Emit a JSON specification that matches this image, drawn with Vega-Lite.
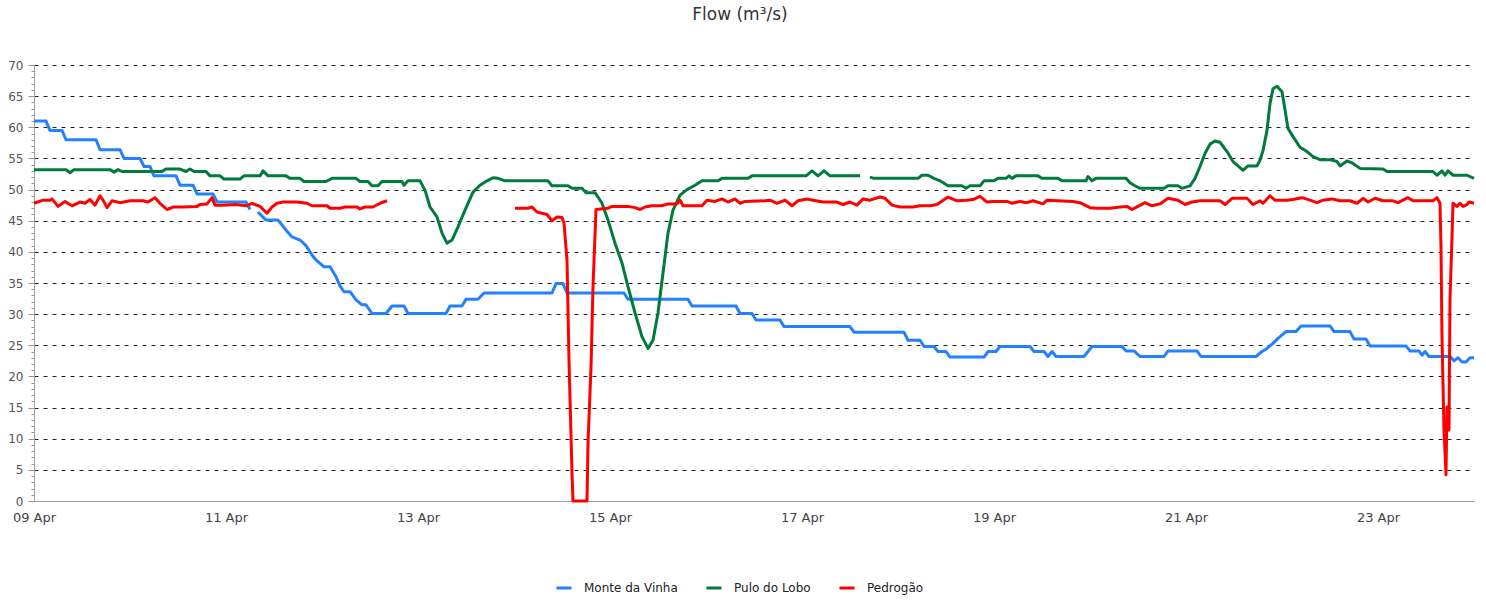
{
  "$schema": "https://vega.github.io/schema/vega-lite/v6.json",
  "width": 1440,
  "height": 436,
  "autosize": "none",
  "padding": {"left": 34, "top": 65, "right": 12, "bottom": 100},
  "background": "white",
  "title": {"text": "Flow (m³/s)", "font": "DejaVu Sans", "fontSize": 17, "fontWeight": "normal", "color": "#333333", "anchor": "middle", "dx": -14, "offset": 35},
  "config": {
    "view": {"stroke": null},
    "font": "DejaVu Sans"
  },
  "data": {"values": [
    {"t":"2024-04-09T00:00","s":"Monte da Vinha","v":61},
    {"t":"2024-04-09T03:00","s":"Monte da Vinha","v":61},
    {"t":"2024-04-09T04:00","s":"Monte da Vinha","v":59.5},
    {"t":"2024-04-09T07:00","s":"Monte da Vinha","v":59.5},
    {"t":"2024-04-09T08:00","s":"Monte da Vinha","v":58},
    {"t":"2024-04-09T15:30","s":"Monte da Vinha","v":58},
    {"t":"2024-04-09T16:30","s":"Monte da Vinha","v":56.4},
    {"t":"2024-04-09T21:30","s":"Monte da Vinha","v":56.4},
    {"t":"2024-04-09T22:30","s":"Monte da Vinha","v":55},
    {"t":"2024-04-10T02:30","s":"Monte da Vinha","v":55},
    {"t":"2024-04-10T03:30","s":"Monte da Vinha","v":53.7},
    {"t":"2024-04-10T05:00","s":"Monte da Vinha","v":53.7},
    {"t":"2024-04-10T06:00","s":"Monte da Vinha","v":52.2},
    {"t":"2024-04-10T11:30","s":"Monte da Vinha","v":52.2},
    {"t":"2024-04-10T12:30","s":"Monte da Vinha","v":50.7},
    {"t":"2024-04-10T15:45","s":"Monte da Vinha","v":50.7},
    {"t":"2024-04-10T16:45","s":"Monte da Vinha","v":49.3},
    {"t":"2024-04-10T20:45","s":"Monte da Vinha","v":49.3},
    {"t":"2024-04-10T21:45","s":"Monte da Vinha","v":48},
    {"t":"2024-04-11T05:00","s":"Monte da Vinha","v":48},
    {"t":"2024-04-11T06:00","s":"Monte da Vinha","v":46.8},
    {"t":"2024-04-11T07:00","s":"Monte da Vinha","v":null},
    {"t":"2024-04-11T08:00","s":"Monte da Vinha","v":46.4},
    {"t":"2024-04-11T10:00","s":"Monte da Vinha","v":45.1},
    {"t":"2024-04-11T13:00","s":"Monte da Vinha","v":45.1},
    {"t":"2024-04-11T15:00","s":"Monte da Vinha","v":43.5},
    {"t":"2024-04-11T16:30","s":"Monte da Vinha","v":42.4},
    {"t":"2024-04-11T18:30","s":"Monte da Vinha","v":41.9},
    {"t":"2024-04-11T20:00","s":"Monte da Vinha","v":41},
    {"t":"2024-04-11T21:30","s":"Monte da Vinha","v":39.5},
    {"t":"2024-04-11T22:30","s":"Monte da Vinha","v":38.7},
    {"t":"2024-04-12T00:30","s":"Monte da Vinha","v":37.6},
    {"t":"2024-04-12T02:00","s":"Monte da Vinha","v":37.6},
    {"t":"2024-04-12T03:30","s":"Monte da Vinha","v":36},
    {"t":"2024-04-12T04:30","s":"Monte da Vinha","v":34.5},
    {"t":"2024-04-12T05:30","s":"Monte da Vinha","v":33.6},
    {"t":"2024-04-12T07:00","s":"Monte da Vinha","v":33.6},
    {"t":"2024-04-12T08:30","s":"Monte da Vinha","v":32.3},
    {"t":"2024-04-12T10:00","s":"Monte da Vinha","v":31.5},
    {"t":"2024-04-12T11:00","s":"Monte da Vinha","v":31.5},
    {"t":"2024-04-12T12:30","s":"Monte da Vinha","v":30.1},
    {"t":"2024-04-12T16:00","s":"Monte da Vinha","v":30.1},
    {"t":"2024-04-12T17:30","s":"Monte da Vinha","v":31.3},
    {"t":"2024-04-12T20:30","s":"Monte da Vinha","v":31.3},
    {"t":"2024-04-12T21:30","s":"Monte da Vinha","v":30.1},
    {"t":"2024-04-13T07:00","s":"Monte da Vinha","v":30.1},
    {"t":"2024-04-13T08:00","s":"Monte da Vinha","v":31.3},
    {"t":"2024-04-13T11:00","s":"Monte da Vinha","v":31.3},
    {"t":"2024-04-13T12:00","s":"Monte da Vinha","v":32.4},
    {"t":"2024-04-13T15:00","s":"Monte da Vinha","v":32.4},
    {"t":"2024-04-13T16:30","s":"Monte da Vinha","v":33.4},
    {"t":"2024-04-14T09:30","s":"Monte da Vinha","v":33.4},
    {"t":"2024-04-14T10:30","s":"Monte da Vinha","v":34.9},
    {"t":"2024-04-14T12:15","s":"Monte da Vinha","v":34.9},
    {"t":"2024-04-14T13:15","s":"Monte da Vinha","v":33.4},
    {"t":"2024-04-15T03:30","s":"Monte da Vinha","v":33.4},
    {"t":"2024-04-15T04:30","s":"Monte da Vinha","v":32.4},
    {"t":"2024-04-15T19:30","s":"Monte da Vinha","v":32.4},
    {"t":"2024-04-15T20:30","s":"Monte da Vinha","v":31.3},
    {"t":"2024-04-16T07:30","s":"Monte da Vinha","v":31.3},
    {"t":"2024-04-16T08:30","s":"Monte da Vinha","v":30.1},
    {"t":"2024-04-16T11:30","s":"Monte da Vinha","v":30.1},
    {"t":"2024-04-16T12:30","s":"Monte da Vinha","v":29.05},
    {"t":"2024-04-16T18:30","s":"Monte da Vinha","v":29.05},
    {"t":"2024-04-16T19:30","s":"Monte da Vinha","v":28},
    {"t":"2024-04-17T12:00","s":"Monte da Vinha","v":28},
    {"t":"2024-04-17T13:00","s":"Monte da Vinha","v":27.1},
    {"t":"2024-04-18T01:30","s":"Monte da Vinha","v":27.1},
    {"t":"2024-04-18T02:30","s":"Monte da Vinha","v":25.8},
    {"t":"2024-04-18T05:30","s":"Monte da Vinha","v":25.8},
    {"t":"2024-04-18T06:30","s":"Monte da Vinha","v":24.8},
    {"t":"2024-04-18T09:00","s":"Monte da Vinha","v":24.8},
    {"t":"2024-04-18T10:00","s":"Monte da Vinha","v":24},
    {"t":"2024-04-18T12:00","s":"Monte da Vinha","v":24},
    {"t":"2024-04-18T13:00","s":"Monte da Vinha","v":23.1},
    {"t":"2024-04-18T21:30","s":"Monte da Vinha","v":23.1},
    {"t":"2024-04-18T22:30","s":"Monte da Vinha","v":24},
    {"t":"2024-04-19T00:30","s":"Monte da Vinha","v":24},
    {"t":"2024-04-19T01:30","s":"Monte da Vinha","v":24.8},
    {"t":"2024-04-19T09:00","s":"Monte da Vinha","v":24.8},
    {"t":"2024-04-19T10:00","s":"Monte da Vinha","v":24},
    {"t":"2024-04-19T12:30","s":"Monte da Vinha","v":24},
    {"t":"2024-04-19T13:30","s":"Monte da Vinha","v":23.2},
    {"t":"2024-04-19T14:30","s":"Monte da Vinha","v":24},
    {"t":"2024-04-19T15:30","s":"Monte da Vinha","v":23.2},
    {"t":"2024-04-19T22:30","s":"Monte da Vinha","v":23.2},
    {"t":"2024-04-19T23:30","s":"Monte da Vinha","v":24},
    {"t":"2024-04-20T00:30","s":"Monte da Vinha","v":24.8},
    {"t":"2024-04-20T08:00","s":"Monte da Vinha","v":24.8},
    {"t":"2024-04-20T09:00","s":"Monte da Vinha","v":24.1},
    {"t":"2024-04-20T11:00","s":"Monte da Vinha","v":24.1},
    {"t":"2024-04-20T12:30","s":"Monte da Vinha","v":23.2},
    {"t":"2024-04-20T18:30","s":"Monte da Vinha","v":23.2},
    {"t":"2024-04-20T19:30","s":"Monte da Vinha","v":24.1},
    {"t":"2024-04-21T02:45","s":"Monte da Vinha","v":24.1},
    {"t":"2024-04-21T03:45","s":"Monte da Vinha","v":23.2},
    {"t":"2024-04-21T17:30","s":"Monte da Vinha","v":23.2},
    {"t":"2024-04-21T19:00","s":"Monte da Vinha","v":24},
    {"t":"2024-04-21T20:15","s":"Monte da Vinha","v":24.5},
    {"t":"2024-04-21T21:45","s":"Monte da Vinha","v":25.3},
    {"t":"2024-04-21T23:00","s":"Monte da Vinha","v":26.1},
    {"t":"2024-04-22T01:00","s":"Monte da Vinha","v":27.2},
    {"t":"2024-04-22T03:30","s":"Monte da Vinha","v":27.2},
    {"t":"2024-04-22T04:45","s":"Monte da Vinha","v":28.1},
    {"t":"2024-04-22T12:00","s":"Monte da Vinha","v":28.1},
    {"t":"2024-04-22T13:00","s":"Monte da Vinha","v":27.2},
    {"t":"2024-04-22T17:00","s":"Monte da Vinha","v":27.2},
    {"t":"2024-04-22T18:00","s":"Monte da Vinha","v":26},
    {"t":"2024-04-22T21:00","s":"Monte da Vinha","v":26},
    {"t":"2024-04-22T22:00","s":"Monte da Vinha","v":24.9},
    {"t":"2024-04-23T07:00","s":"Monte da Vinha","v":24.9},
    {"t":"2024-04-23T08:00","s":"Monte da Vinha","v":24.1},
    {"t":"2024-04-23T10:15","s":"Monte da Vinha","v":24.1},
    {"t":"2024-04-23T11:00","s":"Monte da Vinha","v":23.4},
    {"t":"2024-04-23T11:45","s":"Monte da Vinha","v":24},
    {"t":"2024-04-23T12:45","s":"Monte da Vinha","v":23.2},
    {"t":"2024-04-23T18:00","s":"Monte da Vinha","v":23.2},
    {"t":"2024-04-23T19:00","s":"Monte da Vinha","v":22.5},
    {"t":"2024-04-23T20:00","s":"Monte da Vinha","v":23},
    {"t":"2024-04-23T21:00","s":"Monte da Vinha","v":22.3},
    {"t":"2024-04-23T22:00","s":"Monte da Vinha","v":22.3},
    {"t":"2024-04-23T23:00","s":"Monte da Vinha","v":23},
    {"t":"2024-04-24T00:00","s":"Monte da Vinha","v":23},

    {"t":"2024-04-09T00:00","s":"Pulo do Lobo","v":53.2},
    {"t":"2024-04-09T08:00","s":"Pulo do Lobo","v":53.2},
    {"t":"2024-04-09T09:00","s":"Pulo do Lobo","v":52.7},
    {"t":"2024-04-09T10:00","s":"Pulo do Lobo","v":53.2},
    {"t":"2024-04-09T19:00","s":"Pulo do Lobo","v":53.2},
    {"t":"2024-04-09T20:00","s":"Pulo do Lobo","v":52.8},
    {"t":"2024-04-09T21:00","s":"Pulo do Lobo","v":53.2},
    {"t":"2024-04-09T22:00","s":"Pulo do Lobo","v":52.9},
    {"t":"2024-04-10T08:00","s":"Pulo do Lobo","v":52.9},
    {"t":"2024-04-10T09:00","s":"Pulo do Lobo","v":53.3},
    {"t":"2024-04-10T12:30","s":"Pulo do Lobo","v":53.3},
    {"t":"2024-04-10T14:00","s":"Pulo do Lobo","v":52.9},
    {"t":"2024-04-10T15:00","s":"Pulo do Lobo","v":53.3},
    {"t":"2024-04-10T16:00","s":"Pulo do Lobo","v":52.9},
    {"t":"2024-04-10T19:00","s":"Pulo do Lobo","v":52.9},
    {"t":"2024-04-10T20:00","s":"Pulo do Lobo","v":52.2},
    {"t":"2024-04-10T22:30","s":"Pulo do Lobo","v":52.2},
    {"t":"2024-04-10T23:30","s":"Pulo do Lobo","v":51.7},
    {"t":"2024-04-11T03:30","s":"Pulo do Lobo","v":51.7},
    {"t":"2024-04-11T04:30","s":"Pulo do Lobo","v":52.2},
    {"t":"2024-04-11T08:30","s":"Pulo do Lobo","v":52.2},
    {"t":"2024-04-11T09:15","s":"Pulo do Lobo","v":53},
    {"t":"2024-04-11T10:30","s":"Pulo do Lobo","v":52.2},
    {"t":"2024-04-11T15:00","s":"Pulo do Lobo","v":52.2},
    {"t":"2024-04-11T16:00","s":"Pulo do Lobo","v":51.8},
    {"t":"2024-04-11T18:30","s":"Pulo do Lobo","v":51.8},
    {"t":"2024-04-11T19:30","s":"Pulo do Lobo","v":51.3},
    {"t":"2024-04-12T01:00","s":"Pulo do Lobo","v":51.3},
    {"t":"2024-04-12T02:30","s":"Pulo do Lobo","v":51.8},
    {"t":"2024-04-12T08:30","s":"Pulo do Lobo","v":51.8},
    {"t":"2024-04-12T09:30","s":"Pulo do Lobo","v":51.3},
    {"t":"2024-04-12T11:30","s":"Pulo do Lobo","v":51.3},
    {"t":"2024-04-12T12:30","s":"Pulo do Lobo","v":50.6},
    {"t":"2024-04-12T14:00","s":"Pulo do Lobo","v":50.6},
    {"t":"2024-04-12T15:00","s":"Pulo do Lobo","v":51.3},
    {"t":"2024-04-12T20:00","s":"Pulo do Lobo","v":51.3},
    {"t":"2024-04-12T20:30","s":"Pulo do Lobo","v":50.7},
    {"t":"2024-04-12T21:30","s":"Pulo do Lobo","v":51.4},
    {"t":"2024-04-13T00:30","s":"Pulo do Lobo","v":51.4},
    {"t":"2024-04-13T01:45","s":"Pulo do Lobo","v":49.9},
    {"t":"2024-04-13T03:00","s":"Pulo do Lobo","v":47.2},
    {"t":"2024-04-13T04:45","s":"Pulo do Lobo","v":45.6},
    {"t":"2024-04-13T06:00","s":"Pulo do Lobo","v":43},
    {"t":"2024-04-13T07:15","s":"Pulo do Lobo","v":41.4},
    {"t":"2024-04-13T08:30","s":"Pulo do Lobo","v":41.9},
    {"t":"2024-04-13T10:00","s":"Pulo do Lobo","v":44},
    {"t":"2024-04-13T11:45","s":"Pulo do Lobo","v":46.7},
    {"t":"2024-04-13T13:45","s":"Pulo do Lobo","v":49.6},
    {"t":"2024-04-13T15:30","s":"Pulo do Lobo","v":50.7},
    {"t":"2024-04-13T17:15","s":"Pulo do Lobo","v":51.4},
    {"t":"2024-04-13T18:45","s":"Pulo do Lobo","v":51.9},
    {"t":"2024-04-13T20:00","s":"Pulo do Lobo","v":51.8},
    {"t":"2024-04-13T21:45","s":"Pulo do Lobo","v":51.4},
    {"t":"2024-04-14T08:30","s":"Pulo do Lobo","v":51.4},
    {"t":"2024-04-14T09:30","s":"Pulo do Lobo","v":50.6},
    {"t":"2024-04-14T13:30","s":"Pulo do Lobo","v":50.6},
    {"t":"2024-04-14T14:30","s":"Pulo do Lobo","v":50.2},
    {"t":"2024-04-14T17:00","s":"Pulo do Lobo","v":50.2},
    {"t":"2024-04-14T18:00","s":"Pulo do Lobo","v":49.5},
    {"t":"2024-04-14T20:15","s":"Pulo do Lobo","v":49.5},
    {"t":"2024-04-14T21:00","s":"Pulo do Lobo","v":48.8},
    {"t":"2024-04-14T22:00","s":"Pulo do Lobo","v":47.8},
    {"t":"2024-04-14T23:30","s":"Pulo do Lobo","v":45.1},
    {"t":"2024-04-15T01:15","s":"Pulo do Lobo","v":41.4},
    {"t":"2024-04-15T03:00","s":"Pulo do Lobo","v":38.2},
    {"t":"2024-04-15T04:30","s":"Pulo do Lobo","v":34.4},
    {"t":"2024-04-15T06:15","s":"Pulo do Lobo","v":30.2},
    {"t":"2024-04-15T08:00","s":"Pulo do Lobo","v":26.4},
    {"t":"2024-04-15T09:30","s":"Pulo do Lobo","v":24.5},
    {"t":"2024-04-15T10:45","s":"Pulo do Lobo","v":25.8},
    {"t":"2024-04-15T12:00","s":"Pulo do Lobo","v":30.2},
    {"t":"2024-04-15T13:15","s":"Pulo do Lobo","v":36.6},
    {"t":"2024-04-15T14:30","s":"Pulo do Lobo","v":43},
    {"t":"2024-04-15T15:45","s":"Pulo do Lobo","v":46.7},
    {"t":"2024-04-15T17:30","s":"Pulo do Lobo","v":49.1},
    {"t":"2024-04-15T19:15","s":"Pulo do Lobo","v":50},
    {"t":"2024-04-15T21:15","s":"Pulo do Lobo","v":50.7},
    {"t":"2024-04-15T23:00","s":"Pulo do Lobo","v":51.4},
    {"t":"2024-04-16T03:00","s":"Pulo do Lobo","v":51.4},
    {"t":"2024-04-16T04:00","s":"Pulo do Lobo","v":51.8},
    {"t":"2024-04-16T10:30","s":"Pulo do Lobo","v":51.8},
    {"t":"2024-04-16T11:30","s":"Pulo do Lobo","v":52.2},
    {"t":"2024-04-17T01:00","s":"Pulo do Lobo","v":52.2},
    {"t":"2024-04-17T02:30","s":"Pulo do Lobo","v":53},
    {"t":"2024-04-17T04:00","s":"Pulo do Lobo","v":52.2},
    {"t":"2024-04-17T05:30","s":"Pulo do Lobo","v":53},
    {"t":"2024-04-17T07:00","s":"Pulo do Lobo","v":52.2},
    {"t":"2024-04-17T14:30","s":"Pulo do Lobo","v":52.2},
    {"t":"2024-04-17T15:30","s":"Pulo do Lobo","v":null},
    {"t":"2024-04-17T17:00","s":"Pulo do Lobo","v":52},
    {"t":"2024-04-17T18:00","s":"Pulo do Lobo","v":51.8},
    {"t":"2024-04-18T05:00","s":"Pulo do Lobo","v":51.8},
    {"t":"2024-04-18T06:00","s":"Pulo do Lobo","v":52.3},
    {"t":"2024-04-18T07:30","s":"Pulo do Lobo","v":52.3},
    {"t":"2024-04-18T09:00","s":"Pulo do Lobo","v":51.8},
    {"t":"2024-04-18T10:30","s":"Pulo do Lobo","v":51.4},
    {"t":"2024-04-18T12:30","s":"Pulo do Lobo","v":50.6},
    {"t":"2024-04-18T16:00","s":"Pulo do Lobo","v":50.6},
    {"t":"2024-04-18T17:00","s":"Pulo do Lobo","v":50.2},
    {"t":"2024-04-18T18:00","s":"Pulo do Lobo","v":50.6},
    {"t":"2024-04-18T20:30","s":"Pulo do Lobo","v":50.6},
    {"t":"2024-04-18T21:30","s":"Pulo do Lobo","v":51.4},
    {"t":"2024-04-19T00:00","s":"Pulo do Lobo","v":51.4},
    {"t":"2024-04-19T01:00","s":"Pulo do Lobo","v":51.8},
    {"t":"2024-04-19T03:00","s":"Pulo do Lobo","v":51.8},
    {"t":"2024-04-19T03:45","s":"Pulo do Lobo","v":52.2},
    {"t":"2024-04-19T04:30","s":"Pulo do Lobo","v":51.8},
    {"t":"2024-04-19T05:30","s":"Pulo do Lobo","v":52.2},
    {"t":"2024-04-19T11:00","s":"Pulo do Lobo","v":52.2},
    {"t":"2024-04-19T12:00","s":"Pulo do Lobo","v":51.8},
    {"t":"2024-04-19T16:00","s":"Pulo do Lobo","v":51.8},
    {"t":"2024-04-19T17:00","s":"Pulo do Lobo","v":51.4},
    {"t":"2024-04-19T23:00","s":"Pulo do Lobo","v":51.4},
    {"t":"2024-04-19T23:30","s":"Pulo do Lobo","v":52.1},
    {"t":"2024-04-20T00:30","s":"Pulo do Lobo","v":51.4},
    {"t":"2024-04-20T01:30","s":"Pulo do Lobo","v":51.8},
    {"t":"2024-04-20T09:00","s":"Pulo do Lobo","v":51.8},
    {"t":"2024-04-20T10:00","s":"Pulo do Lobo","v":51.1},
    {"t":"2024-04-20T11:00","s":"Pulo do Lobo","v":50.7},
    {"t":"2024-04-20T12:30","s":"Pulo do Lobo","v":50.2},
    {"t":"2024-04-20T18:30","s":"Pulo do Lobo","v":50.2},
    {"t":"2024-04-20T19:30","s":"Pulo do Lobo","v":50.6},
    {"t":"2024-04-20T22:00","s":"Pulo do Lobo","v":50.6},
    {"t":"2024-04-20T23:00","s":"Pulo do Lobo","v":50.2},
    {"t":"2024-04-21T01:00","s":"Pulo do Lobo","v":50.6},
    {"t":"2024-04-21T02:15","s":"Pulo do Lobo","v":51.8},
    {"t":"2024-04-21T03:30","s":"Pulo do Lobo","v":53.7},
    {"t":"2024-04-21T04:45","s":"Pulo do Lobo","v":55.8},
    {"t":"2024-04-21T06:00","s":"Pulo do Lobo","v":57.3},
    {"t":"2024-04-21T07:15","s":"Pulo do Lobo","v":57.8},
    {"t":"2024-04-21T08:30","s":"Pulo do Lobo","v":57.6},
    {"t":"2024-04-21T10:15","s":"Pulo do Lobo","v":56.1},
    {"t":"2024-04-21T11:45","s":"Pulo do Lobo","v":54.5},
    {"t":"2024-04-21T13:00","s":"Pulo do Lobo","v":53.8},
    {"t":"2024-04-21T14:15","s":"Pulo do Lobo","v":53.1},
    {"t":"2024-04-21T15:30","s":"Pulo do Lobo","v":53.8},
    {"t":"2024-04-21T17:45","s":"Pulo do Lobo","v":53.8},
    {"t":"2024-04-21T18:30","s":"Pulo do Lobo","v":54.7},
    {"t":"2024-04-21T19:15","s":"Pulo do Lobo","v":56.3},
    {"t":"2024-04-21T20:15","s":"Pulo do Lobo","v":59.5},
    {"t":"2024-04-21T21:00","s":"Pulo do Lobo","v":63.8},
    {"t":"2024-04-21T21:45","s":"Pulo do Lobo","v":66.2},
    {"t":"2024-04-21T22:45","s":"Pulo do Lobo","v":66.6},
    {"t":"2024-04-22T00:00","s":"Pulo do Lobo","v":65.7},
    {"t":"2024-04-22T00:45","s":"Pulo do Lobo","v":62.8},
    {"t":"2024-04-22T01:30","s":"Pulo do Lobo","v":59.8},
    {"t":"2024-04-22T02:45","s":"Pulo do Lobo","v":58.5},
    {"t":"2024-04-22T04:30","s":"Pulo do Lobo","v":56.8},
    {"t":"2024-04-22T06:15","s":"Pulo do Lobo","v":56.1},
    {"t":"2024-04-22T07:45","s":"Pulo do Lobo","v":55.3},
    {"t":"2024-04-22T09:30","s":"Pulo do Lobo","v":54.8},
    {"t":"2024-04-22T12:00","s":"Pulo do Lobo","v":54.8},
    {"t":"2024-04-22T13:45","s":"Pulo do Lobo","v":54.5},
    {"t":"2024-04-22T14:30","s":"Pulo do Lobo","v":53.8},
    {"t":"2024-04-22T16:15","s":"Pulo do Lobo","v":54.6},
    {"t":"2024-04-22T17:45","s":"Pulo do Lobo","v":54.2},
    {"t":"2024-04-22T19:30","s":"Pulo do Lobo","v":53.4},
    {"t":"2024-04-23T01:15","s":"Pulo do Lobo","v":53.3},
    {"t":"2024-04-23T02:15","s":"Pulo do Lobo","v":52.9},
    {"t":"2024-04-23T13:45","s":"Pulo do Lobo","v":52.9},
    {"t":"2024-04-23T14:45","s":"Pulo do Lobo","v":52.3},
    {"t":"2024-04-23T16:00","s":"Pulo do Lobo","v":53},
    {"t":"2024-04-23T16:45","s":"Pulo do Lobo","v":52.3},
    {"t":"2024-04-23T17:30","s":"Pulo do Lobo","v":53},
    {"t":"2024-04-23T18:45","s":"Pulo do Lobo","v":52.3},
    {"t":"2024-04-23T22:15","s":"Pulo do Lobo","v":52.3},
    {"t":"2024-04-24T00:00","s":"Pulo do Lobo","v":51.8},

    {"t":"2024-04-09T00:00","s":"Pedrogão","v":47.8},
    {"t":"2024-04-09T02:15","s":"Pedrogão","v":48.3},
    {"t":"2024-04-09T04:00","s":"Pedrogão","v":48.3},
    {"t":"2024-04-09T04:30","s":"Pedrogão","v":48.5},
    {"t":"2024-04-09T06:00","s":"Pedrogão","v":47.3},
    {"t":"2024-04-09T07:45","s":"Pedrogão","v":48.1},
    {"t":"2024-04-09T09:30","s":"Pedrogão","v":47.4},
    {"t":"2024-04-09T11:30","s":"Pedrogão","v":48},
    {"t":"2024-04-09T12:45","s":"Pedrogão","v":47.8},
    {"t":"2024-04-09T14:00","s":"Pedrogão","v":48.4},
    {"t":"2024-04-09T15:15","s":"Pedrogão","v":47.5},
    {"t":"2024-04-09T16:30","s":"Pedrogão","v":49},
    {"t":"2024-04-09T17:15","s":"Pedrogão","v":48.3},
    {"t":"2024-04-09T18:15","s":"Pedrogão","v":47.1},
    {"t":"2024-04-09T19:30","s":"Pedrogão","v":48.2},
    {"t":"2024-04-09T21:30","s":"Pedrogão","v":47.9},
    {"t":"2024-04-10T00:00","s":"Pedrogão","v":48.2},
    {"t":"2024-04-10T03:15","s":"Pedrogão","v":48.2},
    {"t":"2024-04-10T04:30","s":"Pedrogão","v":48},
    {"t":"2024-04-10T06:15","s":"Pedrogão","v":48.7},
    {"t":"2024-04-10T07:30","s":"Pedrogão","v":47.8},
    {"t":"2024-04-10T09:15","s":"Pedrogão","v":46.8},
    {"t":"2024-04-10T10:45","s":"Pedrogão","v":47.2},
    {"t":"2024-04-10T13:15","s":"Pedrogão","v":47.2},
    {"t":"2024-04-10T16:45","s":"Pedrogão","v":47.3},
    {"t":"2024-04-10T17:30","s":"Pedrogão","v":47.6},
    {"t":"2024-04-10T19:15","s":"Pedrogão","v":47.7},
    {"t":"2024-04-10T20:30","s":"Pedrogão","v":48.7},
    {"t":"2024-04-10T21:15","s":"Pedrogão","v":47.5},
    {"t":"2024-04-10T23:15","s":"Pedrogão","v":47.5},
    {"t":"2024-04-11T02:15","s":"Pedrogão","v":47.6},
    {"t":"2024-04-11T05:15","s":"Pedrogão","v":47.4},
    {"t":"2024-04-11T06:30","s":"Pedrogão","v":47.8},
    {"t":"2024-04-11T08:30","s":"Pedrogão","v":47.3},
    {"t":"2024-04-11T10:15","s":"Pedrogão","v":46.2},
    {"t":"2024-04-11T11:30","s":"Pedrogão","v":47.2},
    {"t":"2024-04-11T12:45","s":"Pedrogão","v":47.8},
    {"t":"2024-04-11T14:15","s":"Pedrogão","v":48},
    {"t":"2024-04-11T17:45","s":"Pedrogão","v":48},
    {"t":"2024-04-11T20:15","s":"Pedrogão","v":47.8},
    {"t":"2024-04-11T21:30","s":"Pedrogão","v":47.4},
    {"t":"2024-04-12T01:15","s":"Pedrogão","v":47.4},
    {"t":"2024-04-12T02:00","s":"Pedrogão","v":47},
    {"t":"2024-04-12T04:30","s":"Pedrogão","v":47},
    {"t":"2024-04-12T05:45","s":"Pedrogão","v":47.2},
    {"t":"2024-04-12T08:45","s":"Pedrogão","v":47.2},
    {"t":"2024-04-12T09:30","s":"Pedrogão","v":46.9},
    {"t":"2024-04-12T10:45","s":"Pedrogão","v":47.2},
    {"t":"2024-04-12T12:45","s":"Pedrogão","v":47.2},
    {"t":"2024-04-12T14:30","s":"Pedrogão","v":47.8},
    {"t":"2024-04-12T16:15","s":"Pedrogão","v":48.2},
    {"t":"2024-04-12T17:15","s":"Pedrogão","v":null},
    {"t":"2024-04-14T00:15","s":"Pedrogão","v":47},
    {"t":"2024-04-14T03:30","s":"Pedrogão","v":47},
    {"t":"2024-04-14T04:30","s":"Pedrogão","v":47.2},
    {"t":"2024-04-14T05:45","s":"Pedrogão","v":46.4},
    {"t":"2024-04-14T07:00","s":"Pedrogão","v":46.2},
    {"t":"2024-04-14T08:15","s":"Pedrogão","v":46},
    {"t":"2024-04-14T09:30","s":"Pedrogão","v":45},
    {"t":"2024-04-14T10:45","s":"Pedrogão","v":45.6},
    {"t":"2024-04-14T12:00","s":"Pedrogão","v":45.5},
    {"t":"2024-04-14T12:30","s":"Pedrogão","v":44.6},
    {"t":"2024-04-14T13:15","s":"Pedrogão","v":38.7},
    {"t":"2024-04-14T13:45","s":"Pedrogão","v":22.6},
    {"t":"2024-04-14T14:30","s":"Pedrogão","v":4.5},
    {"t":"2024-04-14T14:45","s":"Pedrogão","v":0},
    {"t":"2024-04-14T18:15","s":"Pedrogão","v":0},
    {"t":"2024-04-14T18:30","s":"Pedrogão","v":9.3},
    {"t":"2024-04-14T19:15","s":"Pedrogão","v":21.5},
    {"t":"2024-04-14T19:45","s":"Pedrogão","v":34.4},
    {"t":"2024-04-14T20:30","s":"Pedrogão","v":46.8},
    {"t":"2024-04-14T23:30","s":"Pedrogão","v":47},
    {"t":"2024-04-15T00:30","s":"Pedrogão","v":47.3},
    {"t":"2024-04-15T04:30","s":"Pedrogão","v":47.3},
    {"t":"2024-04-15T06:15","s":"Pedrogão","v":47.1},
    {"t":"2024-04-15T07:30","s":"Pedrogão","v":46.8},
    {"t":"2024-04-15T08:45","s":"Pedrogão","v":47.2},
    {"t":"2024-04-15T10:30","s":"Pedrogão","v":47.4},
    {"t":"2024-04-15T13:00","s":"Pedrogão","v":47.4},
    {"t":"2024-04-15T14:30","s":"Pedrogão","v":47.7},
    {"t":"2024-04-15T16:45","s":"Pedrogão","v":47.7},
    {"t":"2024-04-15T17:30","s":"Pedrogão","v":48.3},
    {"t":"2024-04-15T18:15","s":"Pedrogão","v":47.4},
    {"t":"2024-04-15T23:00","s":"Pedrogão","v":47.4},
    {"t":"2024-04-16T00:15","s":"Pedrogão","v":48.3},
    {"t":"2024-04-16T02:15","s":"Pedrogão","v":48.1},
    {"t":"2024-04-16T04:00","s":"Pedrogão","v":48.5},
    {"t":"2024-04-16T05:30","s":"Pedrogão","v":48},
    {"t":"2024-04-16T07:15","s":"Pedrogão","v":48.5},
    {"t":"2024-04-16T08:30","s":"Pedrogão","v":47.8},
    {"t":"2024-04-16T09:45","s":"Pedrogão","v":48.1},
    {"t":"2024-04-16T14:45","s":"Pedrogão","v":48.2},
    {"t":"2024-04-16T16:00","s":"Pedrogão","v":48.3},
    {"t":"2024-04-16T17:45","s":"Pedrogão","v":47.8},
    {"t":"2024-04-16T19:45","s":"Pedrogão","v":48.3},
    {"t":"2024-04-16T21:30","s":"Pedrogão","v":47.4},
    {"t":"2024-04-16T23:00","s":"Pedrogão","v":48.2},
    {"t":"2024-04-17T01:15","s":"Pedrogão","v":48.5},
    {"t":"2024-04-17T02:45","s":"Pedrogão","v":48.3},
    {"t":"2024-04-17T05:15","s":"Pedrogão","v":48},
    {"t":"2024-04-17T08:45","s":"Pedrogão","v":48},
    {"t":"2024-04-17T10:15","s":"Pedrogão","v":47.6},
    {"t":"2024-04-17T12:00","s":"Pedrogão","v":48},
    {"t":"2024-04-17T13:45","s":"Pedrogão","v":47.5},
    {"t":"2024-04-17T15:15","s":"Pedrogão","v":48.5},
    {"t":"2024-04-17T17:00","s":"Pedrogão","v":48.3},
    {"t":"2024-04-17T19:30","s":"Pedrogão","v":48.8},
    {"t":"2024-04-17T20:45","s":"Pedrogão","v":48.6},
    {"t":"2024-04-17T22:30","s":"Pedrogão","v":47.5},
    {"t":"2024-04-18T00:30","s":"Pedrogão","v":47.2},
    {"t":"2024-04-18T03:45","s":"Pedrogão","v":47.2},
    {"t":"2024-04-18T05:30","s":"Pedrogão","v":47.4},
    {"t":"2024-04-18T08:00","s":"Pedrogão","v":47.4},
    {"t":"2024-04-18T09:45","s":"Pedrogão","v":47.6},
    {"t":"2024-04-18T12:30","s":"Pedrogão","v":48.8},
    {"t":"2024-04-18T14:45","s":"Pedrogão","v":48.2},
    {"t":"2024-04-18T17:15","s":"Pedrogão","v":48.3},
    {"t":"2024-04-18T18:45","s":"Pedrogão","v":48.4},
    {"t":"2024-04-18T20:30","s":"Pedrogão","v":48.9},
    {"t":"2024-04-18T22:15","s":"Pedrogão","v":48},
    {"t":"2024-04-18T23:45","s":"Pedrogão","v":48.1},
    {"t":"2024-04-19T03:15","s":"Pedrogão","v":48.1},
    {"t":"2024-04-19T04:30","s":"Pedrogão","v":47.8},
    {"t":"2024-04-19T06:30","s":"Pedrogão","v":48.1},
    {"t":"2024-04-19T08:15","s":"Pedrogão","v":47.9},
    {"t":"2024-04-19T09:45","s":"Pedrogão","v":48.2},
    {"t":"2024-04-19T12:15","s":"Pedrogão","v":47.7},
    {"t":"2024-04-19T13:15","s":"Pedrogão","v":48.3},
    {"t":"2024-04-19T19:45","s":"Pedrogão","v":48.1},
    {"t":"2024-04-19T21:30","s":"Pedrogão","v":47.9},
    {"t":"2024-04-20T00:00","s":"Pedrogão","v":47.1},
    {"t":"2024-04-20T01:45","s":"Pedrogão","v":47},
    {"t":"2024-04-20T05:00","s":"Pedrogão","v":47},
    {"t":"2024-04-20T07:30","s":"Pedrogão","v":47.2},
    {"t":"2024-04-20T09:15","s":"Pedrogão","v":47.3},
    {"t":"2024-04-20T10:30","s":"Pedrogão","v":46.8},
    {"t":"2024-04-20T12:00","s":"Pedrogão","v":47.3},
    {"t":"2024-04-20T13:45","s":"Pedrogão","v":47.9},
    {"t":"2024-04-20T15:30","s":"Pedrogão","v":47.4},
    {"t":"2024-04-20T17:30","s":"Pedrogão","v":47.7},
    {"t":"2024-04-20T19:30","s":"Pedrogão","v":48.6},
    {"t":"2024-04-20T22:00","s":"Pedrogão","v":48.3},
    {"t":"2024-04-20T23:45","s":"Pedrogão","v":47.6},
    {"t":"2024-04-21T01:30","s":"Pedrogão","v":48},
    {"t":"2024-04-21T03:30","s":"Pedrogão","v":48.2},
    {"t":"2024-04-21T08:30","s":"Pedrogão","v":48.2},
    {"t":"2024-04-21T09:45","s":"Pedrogão","v":47.6},
    {"t":"2024-04-21T11:30","s":"Pedrogão","v":48.6},
    {"t":"2024-04-21T15:15","s":"Pedrogão","v":48.6},
    {"t":"2024-04-21T16:45","s":"Pedrogão","v":47.6},
    {"t":"2024-04-21T18:30","s":"Pedrogão","v":48.2},
    {"t":"2024-04-21T19:15","s":"Pedrogão","v":47.8},
    {"t":"2024-04-21T21:00","s":"Pedrogão","v":49},
    {"t":"2024-04-21T22:15","s":"Pedrogão","v":48.3},
    {"t":"2024-04-22T01:15","s":"Pedrogão","v":48.3},
    {"t":"2024-04-22T02:45","s":"Pedrogão","v":48.4},
    {"t":"2024-04-22T05:00","s":"Pedrogão","v":48.7},
    {"t":"2024-04-22T07:00","s":"Pedrogão","v":48.3},
    {"t":"2024-04-22T08:45","s":"Pedrogão","v":47.9},
    {"t":"2024-04-22T10:15","s":"Pedrogão","v":48.3},
    {"t":"2024-04-22T12:30","s":"Pedrogão","v":48.5},
    {"t":"2024-04-22T14:30","s":"Pedrogão","v":48.2},
    {"t":"2024-04-22T17:00","s":"Pedrogão","v":48.2},
    {"t":"2024-04-22T18:45","s":"Pedrogão","v":47.8},
    {"t":"2024-04-22T20:15","s":"Pedrogão","v":48.6},
    {"t":"2024-04-22T21:30","s":"Pedrogão","v":48},
    {"t":"2024-04-22T23:15","s":"Pedrogão","v":48.6},
    {"t":"2024-04-23T01:15","s":"Pedrogão","v":48.2},
    {"t":"2024-04-23T03:45","s":"Pedrogão","v":48.2},
    {"t":"2024-04-23T05:00","s":"Pedrogão","v":47.9},
    {"t":"2024-04-23T07:30","s":"Pedrogão","v":48.7},
    {"t":"2024-04-23T08:45","s":"Pedrogão","v":48.2},
    {"t":"2024-04-23T13:45","s":"Pedrogão","v":48.2},
    {"t":"2024-04-23T14:45","s":"Pedrogão","v":48.7},
    {"t":"2024-04-23T15:30","s":"Pedrogão","v":47.8},
    {"t":"2024-04-23T15:45","s":"Pedrogão","v":40.8},
    {"t":"2024-04-23T16:00","s":"Pedrogão","v":26.3},
    {"t":"2024-04-23T16:30","s":"Pedrogão","v":11.4},
    {"t":"2024-04-23T17:00","s":"Pedrogão","v":4.2},
    {"t":"2024-04-23T17:15","s":"Pedrogão","v":15.1},
    {"t":"2024-04-23T17:45","s":"Pedrogão","v":11.4},
    {"t":"2024-04-23T18:00","s":"Pedrogão","v":32.3},
    {"t":"2024-04-23T18:30","s":"Pedrogão","v":42.4},
    {"t":"2024-04-23T18:45","s":"Pedrogão","v":47.8},
    {"t":"2024-04-23T19:45","s":"Pedrogão","v":47.3},
    {"t":"2024-04-23T20:30","s":"Pedrogão","v":47.8},
    {"t":"2024-04-23T21:15","s":"Pedrogão","v":47.3},
    {"t":"2024-04-23T22:15","s":"Pedrogão","v":47.6},
    {"t":"2024-04-23T22:45","s":"Pedrogão","v":48},
    {"t":"2024-04-24T00:00","s":"Pedrogão","v":47.8}
  ]},
  "layer": [
    {
      "mark": {"type": "line", "strokeWidth": 3, "strokeJoin": "round"},
      "encoding": {
        "x": {
          "field": "t", "type": "temporal", "title": null,
          "scale": {"domain": [{"year": 2024, "month": 4, "date": 9}, {"year": 2024, "month": 4, "date": 24}], "nice": false},
          "axis": {
            "tickCount": {"interval": "day", "step": 2},
            "format": "%d %b",
            "labelFlush": false,
            "labelFont": "DejaVu Sans",
            "labelFontSize": 13,
            "labelColor": "#444444",
            "labelPadding": 10,
            "ticks": false,
            "grid": false,
            "domainColor": "#a0a0a0",
            "domainWidth": 1
          }
        },
        "y": {
          "field": "v", "type": "quantitative", "title": null,
          "scale": {"domain": [0, 70], "nice": false, "zero": true},
          "axis": {
            "values": [0, 5, 10, 15, 20, 25, 30, 35, 40, 45, 50, 55, 60, 65, 70],
            "labelFont": "DejaVu Sans",
            "labelFontSize": 12,
            "labelColor": "#555555",
            "labelPadding": 5,
            "tickSize": 6,
            "tickColor": "#999999",
            "domainColor": "#a0a0a0",
            "grid": true,
            "gridColor": "#222222",
            "gridDash": [4, 5],
            "gridWidth": 1
          }
        },
        "color": {
          "field": "s", "type": "nominal", "title": null,
          "scale": {"domain": ["Monte da Vinha", "Pulo do Lobo", "Pedrogão"], "range": ["#2381ff", "#007b3b", "#ff0000"]},
          "legend": {
            "orient": "none",
            "direction": "horizontal",
            "legendX": 521,
            "legendY": 514,
            "padding": 0,
            "symbolType": "stroke",
            "symbolStrokeWidth": 3,
            "symbolSize": 225,
            "labelFont": "DejaVu Sans",
            "labelFontSize": 12,
            "labelColor": "#222222",
            "labelOffset": 11,
            "columnPadding": 22
          }
        }
      }
    },
    {
      "mark": {"type": "tick", "opacity": 0},
      "encoding": {
        "y": {
          "field": "v", "type": "quantitative",
          "scale": {"domain": [0, 70], "nice": false},
          "axis": {
            "orient": "left",
            "values": [0,1,2,3,4,5,6,7,8,9,10,11,12,13,14,15,16,17,18,19,20,21,22,23,24,25,26,27,28,29,30,31,32,33,34,35,36,37,38,39,40,41,42,43,44,45,46,47,48,49,50,51,52,53,54,55,56,57,58,59,60,61,62,63,64,65,66,67,68,69,70],
            "labels": false,
            "domain": false,
            "grid": false,
            "tickSize": 3,
            "tickColor": "#999999",
            "title": null
          }
        }
      }
    }
  ],
  "resolve": {"axis": {"y": "independent"}}
}
